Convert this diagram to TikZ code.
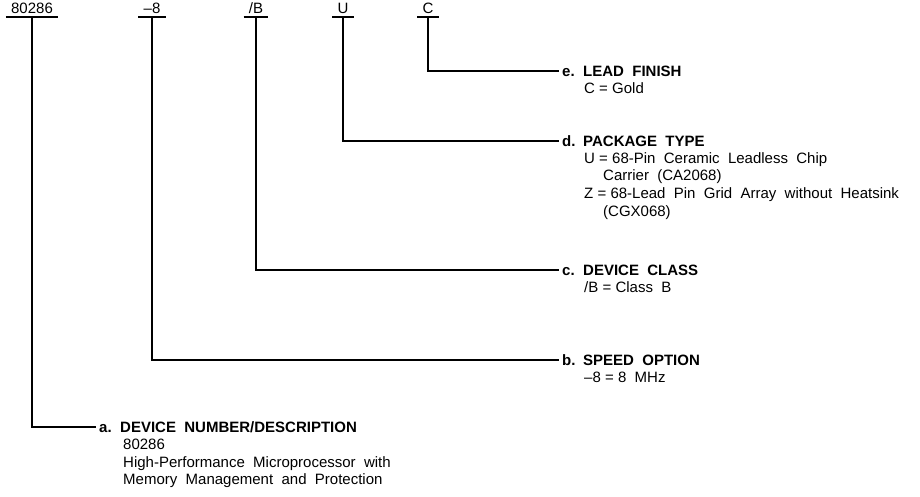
\documentclass[tikz,border=0pt]{standalone}
\usepackage{fontspec}
\setmainfont{Liberation Sans}[WordSpace=2.0]
\newcommand\bx[1]{\makebox[21pt][l]{#1}}
\newcommand\eq{\hspace{4.2pt}=\hspace{4.2pt}}
\tikzset{
  ln/.style={line width=1.7pt},
  code/.style={font=\fontsize{15}{15}\selectfont, inner sep=0pt, anchor=base},
  hd/.style={font=\bfseries\fontsize{15}{17.5}\selectfont, anchor=west, inner xsep=3pt, inner ysep=0pt, text height=10.7pt, text depth=0pt},
  bd/.style={font=\fontsize{15}{17.5}\selectfont, anchor=base west, inner sep=0pt},
}
\begin{document}
\begin{tikzpicture}[x=1pt,y=-1pt]
\useasboundingbox (0,0) rectangle (920,497);
% top code labels
\node[code] (t1) at (32,14) {80286};
\node[code] (t2) at (152,14) {\textendash8};
\node[code] (t3) at (256,14) {/B};
\node[code] (t4) at (343,14) {U};
\node[code] (t5) at (428,14) {C};
\foreach \t in {t1,t2,t3,t4,t5}{
  \draw[ln] ([shift={(-5,3)}]\t.base west) -- ([shift={(5,3)}]\t.base east);
  \coordinate (c\t) at ([shift={(0,3)}]\t.base);
}
% e
\node[hd] (he) at (559,71) {\bx{e.}LEAD FINISH};
\node[bd] (be1) at (584,93.5) {C\eq Gold};
% d
\node[hd] (hdd) at (559,141) {\bx{d.}PACKAGE TYPE};
\node[bd] (bd1) at (584,163.5) {U\eq 68-Pin Ceramic Leadless Chip};
\node[bd] (bd2) at (603,181) {Carrier (CA2068)};
\node[bd] (bd3) at (584,198.5) {Z\eq 68-Lead Pin Grid Array without Heatsink};
\node[bd] (bd4) at (603,216) {(CGX068)};
% c
\node[hd] (hc) at (559,270) {\bx{c.}DEVICE CLASS};
\node[bd] (bc1) at (584,292.5) {/B\eq Class B};
% b
\node[hd] (hb) at (559,360) {\bx{b.}SPEED OPTION};
\node[bd] (bb1) at (584,382.5) {\textendash8\eq 8 MHz};
% a
\node[hd] (ha) at (96,427) {\bx{a.}DEVICE NUMBER/DESCRIPTION};
\node[bd] (ba1) at (123,449.5) {80286};
\node[bd] (ba2) at (123,467) {High-Performance Microprocessor with};
\node[bd] (ba3) at (123,484.5) {Memory Management and Protection};
% connectors
\draw[ln] (ct1) |- (ha.west);
\draw[ln] (ct2) |- (hb.west);
\draw[ln] (ct3) |- (hc.west);
\draw[ln] (ct4) |- (hdd.west);
\draw[ln] (ct5) |- (he.west);
\end{tikzpicture}
\end{document}
